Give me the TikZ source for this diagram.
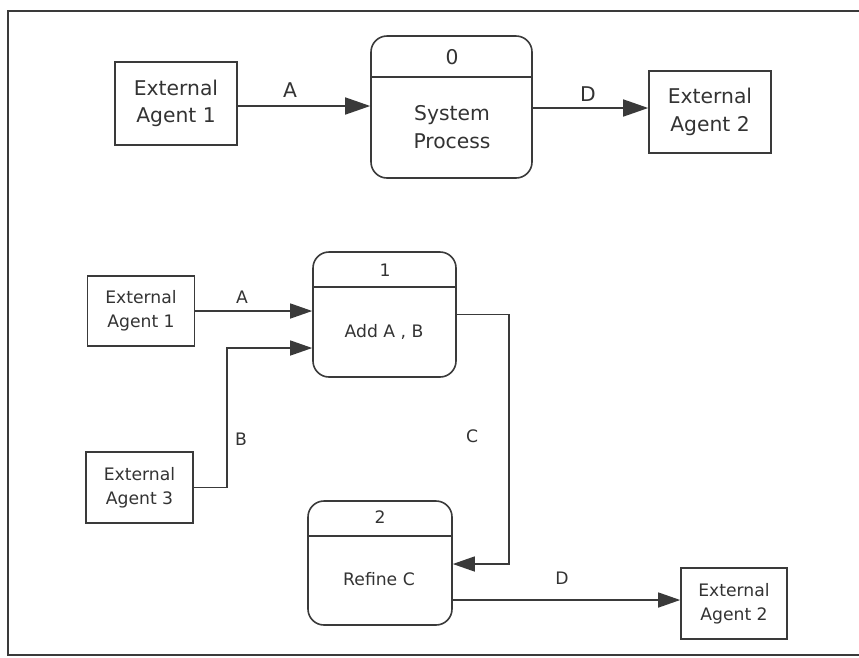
\documentclass[tikz,border=0pt]{standalone}
\usepackage{fontspec}
\setmainfont{DejaVu Sans}
\usetikzlibrary{arrows.meta}
\definecolor{ink}{HTML}{3A3A3A}
\definecolor{txt}{HTML}{333333}
\begin{document}
\begin{tikzpicture}[x=1pt,y=-1pt,
  agent/.style={draw=ink,line width=1.6pt,rectangle,inner sep=0pt},
  proc/.style={draw=ink,line width=1.6pt,rectangle,rounded corners=16pt,inner sep=0pt},
  bigtxt/.style={text=txt,font=\fontsize{20.3}{27.5}\selectfont,align=center,inner sep=0pt},
  smalltxt/.style={text=txt,font=\fontsize{17.2}{24}\selectfont,align=center,inner sep=0pt},
  flowbig/.style={draw=ink,line width=1.6pt,-{Triangle[length=25pt,width=17pt]}},
  flowsmall/.style={draw=ink,line width=1.4pt,-{Triangle[length=22pt,width=15pt]}},
  divider/.style={draw=ink,line width=1.4pt}]
\useasboundingbox (0,0) rectangle (859,657);
% page frame (open on the right)
\draw[ink,line width=1.8pt] (870,11) -- (8,11) -- (8,655) -- (870,655);

% ---------------- context diagram ----------------
\node[agent,minimum width=122pt,minimum height=83pt] (ea1) at (176,103.5) {};
\node[bigtxt] at (ea1.center) {External\\Agent 1};
\node[proc,minimum width=161pt,minimum height=142pt] (p0) at (451.5,107) {};
\draw[divider] (p0.west |- 0,77) -- (p0.east |- 0,77);
\node[bigtxt] (p0n) at (452,57) {0};
\node[bigtxt] (p0t) at (452,127) {System\\Process};
\node[agent,minimum width=122pt,minimum height=82pt] (ea2) at (710,112) {};
\node[bigtxt] at (ea2.center) {External\\Agent 2};

\coordinate (ya) at (0,106);
\coordinate (yd) at (0,108);
\draw[flowbig] (ea1.east |- ya) -- (p0.west |- ya);
\draw[flowbig] (p0.east |- yd) -- (ea2.west |- yd);
\node[bigtxt] (la0) at (290,90) {A};
\node[bigtxt] (ld0) at (588,94) {D};

% ---------------- level-1 diagram ----------------
\node[agent,minimum width=107pt,minimum height=70pt] (eb1) at (141,311) {};
\node[smalltxt] at (eb1.center) {External\\Agent 1};
\node[agent,minimum width=107pt,minimum height=71pt] (eb3) at (139.5,487.5) {};
\node[smalltxt] at (eb3.center) {External\\Agent 3};
\node[agent,minimum width=106pt,minimum height=71pt] (eb2) at (734,603.5) {};
\node[smalltxt] at (eb2.center) {External\\Agent 2};

\node[proc,minimum width=143pt,minimum height=125pt] (p1) at (384.5,314.5) {};
\draw[divider] (p1.west |- 0,287) -- (p1.east |- 0,287);
\node[smalltxt] (p1n) at (385,270) {1};
\node[smalltxt] (p1t) at (384,332) {Add A , B};

\node[proc,minimum width=144pt,minimum height=124pt] (p2) at (380,563) {};
\draw[divider] (p2.west |- 0,536) -- (p2.east |- 0,536);
\node[smalltxt] (p2n) at (380,517) {2};
\node[smalltxt] (p2t) at (379,579) {Refine C};

% flows
\coordinate (yA) at (0,311);
\draw[flowsmall] (eb1.east |- yA) -- (p1.west |- yA);
\coordinate (bB) at (227,348);
\draw[flowsmall] (eb3.east) -| (bB) -- (bB -| p1.west);
\coordinate (cC) at (509,564);
\draw[flowsmall] (p1.east) -| (cC) -- (cC -| p2.east);
\coordinate (yD) at (0,600);
\draw[flowsmall] (p2.east |- yD) -- (eb2.west |- yD);

\node[smalltxt] (la1) at (242,297) {A};
\node[smalltxt] (lb1) at (241,439) {B};
\node[smalltxt] (lc1) at (472,436) {C};
\node[smalltxt] (ld1) at (562,578) {D};
\end{tikzpicture}
\end{document}
